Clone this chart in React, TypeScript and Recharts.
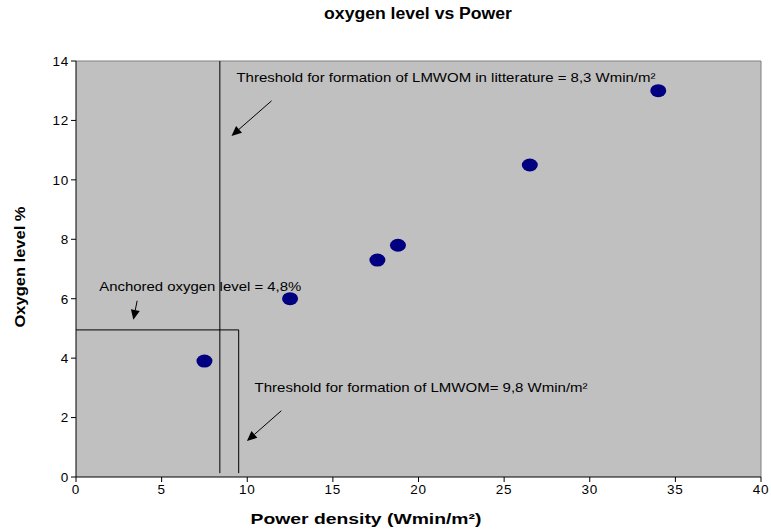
import React from 'react';
import { ScatterChart, Scatter, XAxis, YAxis, CartesianGrid, ReferenceLine, ReferenceDot } from 'recharts';

const powerDensity = [7.5, 12.5, 17.6, 18.8, 26.5, 34.0];
const oxygenLevel = [3.9, 6.0, 7.3, 7.8, 10.5, 13.0];
const xTicks = [0, 5, 10, 15, 20, 25, 30, 35, 40];
const yTicks = [0, 2, 4, 6, 8, 10, 12, 14];

const points = powerDensity.map((x, i) => ({ x, y: oxygenLevel[i] }));

const font = 'Arial, "Liberation Sans", sans-serif';

const Dot = (props: any) => (
  <ellipse cx={props.cx} cy={props.cy} rx={8} ry={6.5} fill="#000080" />
);

const Arrow = (props: any) => {
  const { x1, y1, x2, y2 } = props;
  const a = Math.atan2(y2 - y1, x2 - x1);
  const len = 10;
  const w = 4.5;
  const bx = x2 - len * Math.cos(a);
  const by = y2 - len * Math.sin(a);
  const px = -Math.sin(a) * w;
  const py = Math.cos(a) * w;
  return (
    <g>
      <line x1={x1} y1={y1} x2={bx} y2={by} stroke="#000" strokeWidth={1} />
      <polygon points={`${x2},${y2} ${bx + px},${by + py} ${bx - px},${by - py}`} fill="#000" />
    </g>
  );
};

// annotation text, stretched to the width it has in the original
const note = (text: string, w: number) => (props: any) => (
  <text x={props.cx} y={props.cy} fontSize={13} fontFamily={font} fill="#000" textLength={w} lengthAdjust="spacingAndGlyphs">{text}</text>
);

const tickStyle = { fill: '#000', fontSize: 13.5, fontFamily: font, letterSpacing: 0.8 };

export default function App() {
  return (
    <div style={{ position: 'absolute', left: 0, top: 0, width: 771, height: 531, background: '#fff', fontFamily: font }}>
      <div style={{ position: 'absolute', left: 418, top: 14, width: 0, height: 0 }}>
        <div style={{ position: 'absolute', transform: 'translate(-50%, -50%) scaleX(1.1)', whiteSpace: 'nowrap', fontWeight: 'bold', fontSize: 16 }}>
          oxygen level vs Power
        </div>
      </div>
      <div style={{ position: 'absolute', left: 366, top: 519, width: 0, height: 0 }}>
        <div style={{ position: 'absolute', transform: 'translate(-50%, -50%) scaleX(1.38)', whiteSpace: 'nowrap', fontWeight: 'bold', fontSize: 14 }}>
          Power density (Wmin/m²)
        </div>
      </div>
      <div style={{ position: 'absolute', left: 19, top: 267, width: 0, height: 0 }}>
        <div style={{ position: 'absolute', transform: 'translate(-50%, -50%) rotate(-90deg) scaleX(1.1)', whiteSpace: 'nowrap', fontWeight: 'bold', fontSize: 15 }}>
          Oxygen level %
        </div>
      </div>
      <ScatterChart width={771} height={531} margin={{ top: 61, right: 10, bottom: 24, left: 0 }}>
        <CartesianGrid fill="#C0C0C0" horizontal={false} vertical={false} />
        <XAxis
          type="number"
          dataKey="x"
          domain={[0, 40]}
          ticks={xTicks}
          interval={0}
          height={30}
          tickSize={5}
          stroke="#000"
          tick={tickStyle}
        />
        <YAxis
          type="number"
          dataKey="y"
          domain={[0, 14]}
          ticks={yTicks}
          interval={0}
          width={76}
          tickSize={5}
          stroke="#000"
          tick={tickStyle}
        />
        <ReferenceLine y={14} stroke="#808080" />
        <ReferenceLine x={40} stroke="#808080" />
        <ReferenceLine segment={[{ x: 8.4, y: 0.13 }, { x: 8.4, y: 14 }]} stroke="#000" />
        <ReferenceLine segment={[{ x: 9.5, y: 0.13 }, { x: 9.5, y: 4.95 }]} stroke="#000" />
        <ReferenceLine segment={[{ x: 0, y: 4.95 }, { x: 9.5, y: 4.95 }]} stroke="#000" />
        <ReferenceLine segment={[{ x: 11.42, y: 12.66 }, { x: 9.08, y: 11.48 }]} shape={Arrow} />
        <ReferenceLine segment={[{ x: 3.57, y: 5.93 }, { x: 3.35, y: 5.29 }]} shape={Arrow} />
        <ReferenceLine segment={[{ x: 11.99, y: 2.23 }, { x: 9.98, y: 1.21 }]} shape={Arrow} />
        <ReferenceDot x={9.37} y={13.3} r={0} shape={note('Threshold for formation of LMWOM in litterature = 8,3 Wmin/m²', 419)} />
        <ReferenceDot x={1.36} y={6.26} r={0} shape={note('Anchored oxygen level = 4,8%', 202)} />
        <ReferenceDot x={10.43} y={2.86} r={0} shape={note('Threshold for formation of LMWOM= 9,8 Wmin/m²', 333)} />
        <Scatter data={points} shape={Dot} isAnimationActive={false} />
      </ScatterChart>
    </div>
  );
}
